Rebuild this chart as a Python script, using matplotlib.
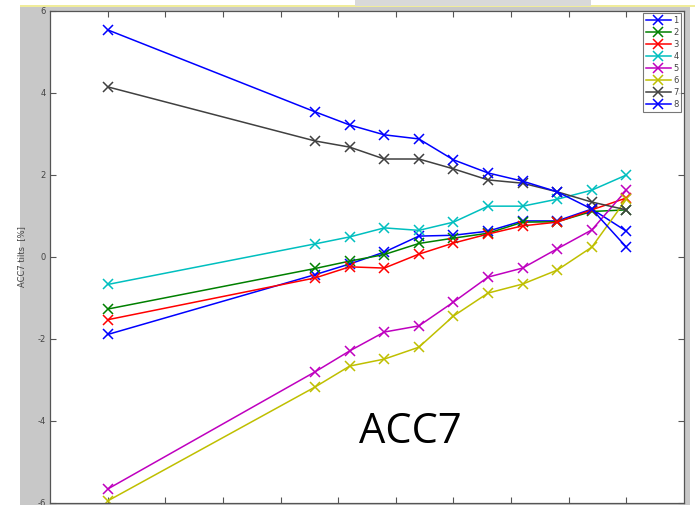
import numpy as np
import matplotlib.pyplot as plt
from matplotlib.patches import Rectangle
from matplotlib.lines import Line2D

plt.rcParams['axes.unicode_minus'] = False

# sensor positions along the run (no labels shown on this axis)
x = [1, 4.6, 5.2, 5.8, 6.4, 7.0, 7.6, 8.2, 8.8, 9.4, 10.0]

tilt1 = [-1.89, -0.43, -0.17, 0.12, 0.51, 0.53, 0.63, 0.88, 0.88, 1.17, 0.63]
tilt2 = [-1.27, -0.28, -0.10, 0.06, 0.33, 0.46, 0.58, 0.85, 0.86, 1.11, 1.15]
tilt3 = [-1.53, -0.51, -0.24, -0.27, 0.07, 0.34, 0.56, 0.76, 0.85, 1.15, 1.44]
tilt4 = [-0.67, 0.32, 0.49, 0.71, 0.65, 0.85, 1.24, 1.24, 1.41, 1.63, 2.00]
tilt5 = [-5.66, -2.80, -2.29, -1.83, -1.68, -1.10, -0.49, -0.27, 0.20, 0.66, 1.63]
tilt6 = [-5.95, -3.17, -2.66, -2.49, -2.20, -1.44, -0.88, -0.66, -0.32, 0.24, 1.41]
tilt7 = [4.15, 2.83, 2.68, 2.39, 2.39, 2.15, 1.88, 1.80, 1.59, 1.34, 1.15]
tilt8 = [5.54, 3.54, 3.22, 2.98, 2.88, 2.37, 2.05, 1.85, 1.59, 1.17, 0.24]

series = [tilt1, tilt2, tilt3, tilt4, tilt5, tilt6, tilt7, tilt8]
names = ['1', '2', '3', '4', '5', '6', '7', '8']
colors = ['#0000ff', '#008000', '#ff0000', '#00bfbf', '#bf00bf', '#bfbf00', '#404040', '#0000ff']

W, H = 695, 505
fig = plt.figure(figsize=(W / 100, H / 100), dpi=100)
fig.patch.set_facecolor('white')

# grey window background, thin yellow strip and a grey tab above it
fig.patches.append(Rectangle((20 / W, 0), 670 / W, 498 / H, transform=fig.transFigure,
                             facecolor='#c8c8c8', edgecolor='none', zorder=-2))
fig.patches.append(Rectangle((20 / W, 498 / H), 675 / W, 1.5 / H, transform=fig.transFigure,
                             facecolor='#f0ec9a', edgecolor='none', zorder=-1))
fig.patches.append(Rectangle((355 / W, 499.5 / H), 236 / W, 5.5 / H, transform=fig.transFigure,
                             facecolor='#d9d9d9', edgecolor='none', zorder=-1))

ax = fig.add_axes([50 / W, 2 / H, 634 / W, 492 / H])
ax.set_facecolor('white')

for vals, c, n in zip(series, colors, names):
    ax.plot(x, vals, color=c, lw=1.1, marker='x', ms=6.5, mew=1.1, label=n)

ax.set_xlim(0, 11)
ax.set_ylim(-6, 6)
ax.set_xticks(range(1, 11))
ax.set_xticklabels([])
ax.set_yticks([-6, -4, -2, 0, 2, 4, 6])
ax.tick_params(direction='in', length=4, width=0.8, color='#555555',
               labelsize=6, labelcolor='#444444', top=True, right=True, pad=3)
for s in ax.spines.values():
    s.set_color('#555555')
    s.set_linewidth(0.9)
ax.set_ylabel('ACC7 tilts  [%]', fontsize=6, color='#444444', labelpad=8)

handles = [Line2D([], [], color=c, lw=1.1, marker='x', ms=6.5, mew=1.1) for c in colors]
leg = ax.legend(handles, names, loc='upper right', fontsize=6, frameon=True, fancybox=False,
                handlelength=3.0, handletextpad=0.3, labelspacing=0.35,
                borderpad=0.35, borderaxespad=0.3)
leg.get_frame().set_edgecolor('#555555')
leg.get_frame().set_linewidth(0.8)
for t in leg.get_texts():
    t.set_color('#444444')

fig.text(410 / W, 1 - 432 / H, 'ACC7', fontsize=30, family='Open Sans',
         ha='center', va='center', color='black')

fig.savefig('out.png', dpi=100)
